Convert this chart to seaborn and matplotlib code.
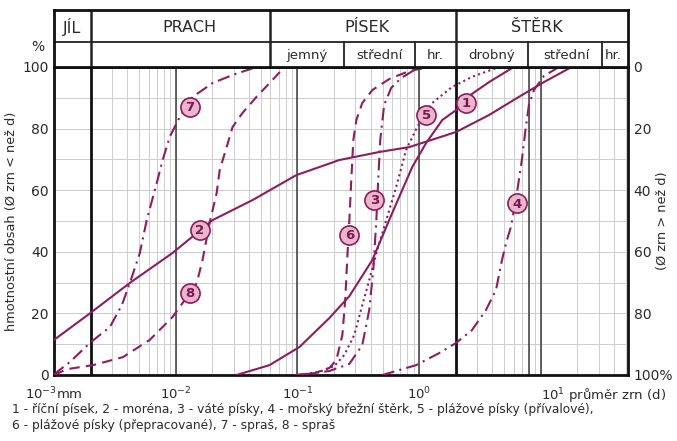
import pandas as pd
import seaborn as sns
import matplotlib.pyplot as plt
from matplotlib.ticker import LogLocator, NullFormatter

sns.set_style("white")
plt.rcParams['font.family'] = ['DejaVu Sans']

# ---------------------------------------------------------------
# data: grain diameter (mm) vs cumulative %
# ---------------------------------------------------------------
d1 = [0.0316, 0.0589, 0.104, 0.183, 0.267, 0.412, 0.601, 0.877, 1.14, 1.55, 2.01, 2.57, 3.75, 6.0]
p1 = [0, 3.2, 9.1, 18.5, 25.6, 37.3, 52.6, 67.5, 75.3, 82.8, 86.0, 90.6, 95.1, 100]

d2 = [0.001, 0.00194, 0.0042, 0.0094, 0.0201, 0.0428, 0.098, 0.221, 0.47, 0.83, 2.01, 3.75, 6.6, 10.6, 17.9]
p2 = [11.4, 19.8, 29.9, 39.6, 50.3, 56.8, 64.9, 69.8, 72.4, 74.0, 78.9, 84.4, 90.3, 95.1, 100]

d3 = [0.104, 0.183, 0.267, 0.341, 0.389, 0.42, 0.445, 0.461, 0.479, 0.516, 0.589, 0.711, 0.91, 1.21]
p3 = [0, 1.3, 3.6, 9.7, 21.1, 34.1, 50.3, 63.3, 76.3, 87.7, 93.2, 96.4, 99.0, 100]

d4 = [0.498, 0.944, 1.46, 2.01, 2.72, 3.54, 4.28, 4.79, 5.26, 5.68, 6.36, 6.98, 7.53, 7.98, 8.77, 10.6, 14.1]
p4 = [0, 3.2, 7.1, 10.4, 14.6, 21.1, 27.6, 37.3, 43.8, 48.1, 59.1, 69.8, 80.5, 87.7, 92.5, 97.1, 100]

d5 = [0.104, 0.151, 0.201, 0.243, 0.293, 0.341, 0.389, 0.453, 0.537, 0.647, 0.782, 0.964, 1.28, 1.86, 2.72, 4.12, 5.47]
p5 = [0, 1.0, 2.9, 6.5, 13.0, 22.7, 30.8, 40.6, 50.3, 61.0, 73.1, 80.5, 88.3, 93.5, 96.8, 99.4, 100]

d6 = [0.0944, 0.138, 0.183, 0.209, 0.234, 0.247, 0.257, 0.267, 0.277, 0.288, 0.305, 0.341, 0.412, 0.568, 0.83, 1.21]
p6 = [0, 0.6, 2.3, 4.9, 13.0, 24.4, 38.3, 50.3, 63.3, 76.3, 82.8, 88.3, 92.5, 96.1, 98.7, 100]

d7 = [0.001, 0.00106, 0.00135, 0.00197, 0.00288, 0.00361, 0.0042, 0.00507, 0.00578, 0.00698,
      0.00781, 0.00893, 0.0108, 0.0138, 0.0201, 0.0293, 0.0461]
p7 = [0, 1.0, 4.2, 10.4, 15.6, 22.7, 29.9, 39.6, 50.3, 62.3, 69.8, 77.3, 83.8, 90.3, 94.8, 97.4, 100]

d8 = [0.001, 0.00128, 0.00209, 0.00368, 0.00612, 0.0094, 0.0114, 0.0149, 0.0166, 0.019, 0.0217,
      0.023, 0.0262, 0.0293, 0.0354, 0.0461, 0.0624, 0.0782]
p8 = [0, 1.9, 3.2, 5.8, 11.4, 18.8, 23.4, 29.9, 37.3, 49.4, 59.1, 66.6, 74.0, 80.5, 85.1, 90.3, 95.8, 100]

# circled curve numbers
label_num = ["1", "2", "3", "4", "5", "6", "7", "8"]
label_d = [2.43, 0.0157, 0.428, 6.36, 1.14, 0.267, 0.013, 0.013]
label_p = [88.3, 47.1, 56.8, 55.8, 84.4, 45.5, 87.0, 26.6]

# header (fraction names) boundaries in mm
top_bounds = [0.002, 0.06, 2]
top_names = ["JÍL", "PRACH", "PÍSEK", "ŠTĚRK"]
top_name_x = [0.00141, 0.013, 0.37, 9.3]
sub_bounds = [0.24, 0.93, 7.8, 32]
sub_names = ["jemný", "střední", "hr.", "drobný", "střední", "hr."]
sub_name_x = [0.119, 0.47, 1.35, 3.96, 16.3, 39.6]

x_min, x_max = 0.001, 52

curves = {
    "1": (d1, p1, "-"),
    "2": (d2, p2, "-"),
    "3": (d3, p3, (0, (6, 2.5, 1, 2.5))),
    "4": (d4, p4, (0, (6, 2.5, 1, 2.5))),
    "5": (d5, p5, (0, (1, 1.6))),
    "6": (d6, p6, (0, (5, 3))),
    "7": (d7, p7, (0, (6, 2.5, 1, 2.5))),
    "8": (d8, p8, (0, (5, 3))),
}

line_col = "#8e1c5e"
text_col = "#2a2a2a"

fig = plt.figure(figsize=(6.77, 4.41), dpi=100)
ax = fig.add_axes([54 / 677, 1 - 375 / 441, 574 / 677, 308 / 441])
ax.set_xscale("log")
ax.set_xlim(x_min, x_max)
ax.set_ylim(0, 100)

# grid
ax.xaxis.set_minor_locator(LogLocator(base=10, subs=range(2, 10)))
ax.xaxis.set_minor_formatter(NullFormatter())
ax.set_yticks(range(0, 101, 10), minor=True)
ax.grid(which="both", color="#cdcdcd", lw=0.7)
for v in [0.01, 0.1, 1, 8, 10]:
    ax.axvline(v, color="#3a3a3a", lw=1.1, zorder=1)
for v in [0.002, 2]:
    ax.axvline(v, color="#111111", lw=2.0, zorder=1)

# curves
for name, (d, p, ls) in curves.items():
    df = pd.DataFrame({"d": d, "p": p})
    sns.lineplot(data=df, x="d", y="p", ax=ax, sort=False, estimator=None,
                 color=line_col, lw=1.5, linestyle=ls, zorder=3)

# circled labels
ax.scatter(label_d, label_p, s=190, facecolor="#eab6cb", edgecolor=line_col, lw=1.2, zorder=5)
for n, x, y in zip(label_num, label_d, label_p):
    ax.text(x, y - 0.3, n, ha="center", va="center", fontsize=9.5, fontweight="bold",
            color="#7a1650", zorder=6)

ax.set_xlabel("")
ax.set_ylabel("hmotnostní obsah (Ø zrn < než d)", fontsize=9.3, color=text_col, labelpad=3)

# axes / ticks
for s in ["left", "bottom", "right", "top"]:
    ax.spines[s].set_color("#111111")
    ax.spines[s].set_linewidth(2)
ax.set_yticks(range(0, 101, 20))
ax.tick_params(axis="y", which="major", length=3, width=1, labelsize=10, colors=text_col, pad=1)
ax.tick_params(which="minor", length=0)
ax.set_xticks([0.001, 0.01, 0.1, 1, 10])
ax.set_xticklabels([r"$10^{-3}$mm", r"$10^{-2}$", r"$10^{-1}$", r"$10^{0}$", r"$10^{1}$ průměr zrn (d)"])
ax.tick_params(axis="x", which="major", length=0, labelsize=9.5, colors=text_col, pad=8)
xt = ax.get_xticklabels()
xt[-1].set_ha("left")
ax.text(-0.028, 1.065, "%", transform=ax.transAxes, ha="center", va="center", fontsize=10, color=text_col)

sec = ax.secondary_yaxis("right", functions=(lambda y: 100 - y, lambda y: 100 - y))
sec.set_yticks(range(0, 101, 20))
sec.set_yticklabels(["0", "20", "40", "60", "80", "100%"])
sec.tick_params(length=0, labelsize=10, colors=text_col, pad=4)
sec.spines["right"].set_visible(False)
sec.set_ylabel("(Ø zrn > než d)", fontsize=9.3, color=text_col, labelpad=-12)

# header with fraction names
axh = fig.add_axes([54 / 677, 1 - 67 / 441, 574 / 677, 57 / 441], sharex=ax)
axh.set_ylim(0, 1)
axh.tick_params(left=False, bottom=False, labelleft=False, labelbottom=False)
for s in axh.spines.values():
    s.set_color("#111111")
    s.set_linewidth(2)
axh.axhline(0.44, color="#222222", lw=1.3)
for v in top_bounds:
    axh.axvline(v, color="#222222", lw=1.8)
for v in sub_bounds:
    axh.axvline(v, ymin=0, ymax=0.44, color="#222222", lw=1.3)
for n, x in zip(top_names, top_name_x):
    axh.text(x, 0.70, n, ha="center", va="center", fontsize=11.5, color=text_col)
for n, x in zip(sub_names, sub_name_x):
    axh.text(x, 0.21, n, ha="center", va="center", fontsize=9.5, color=text_col)

fig.text(12 / 677, 1 - 409 / 441,
         "1 - říční písek, 2 - moréna, 3 - váté písky, 4 - mořský břežní štěrk, 5 - plážové písky (přívalové),",
         ha="left", va="center", fontsize=8.8, color=text_col)
fig.text(12 / 677, 1 - 426 / 441,
         "6 - plážové písky (přepracované), 7 - spraš, 8 - spraš",
         ha="left", va="center", fontsize=8.8, color=text_col)

fig.savefig("out.png", dpi=100)
